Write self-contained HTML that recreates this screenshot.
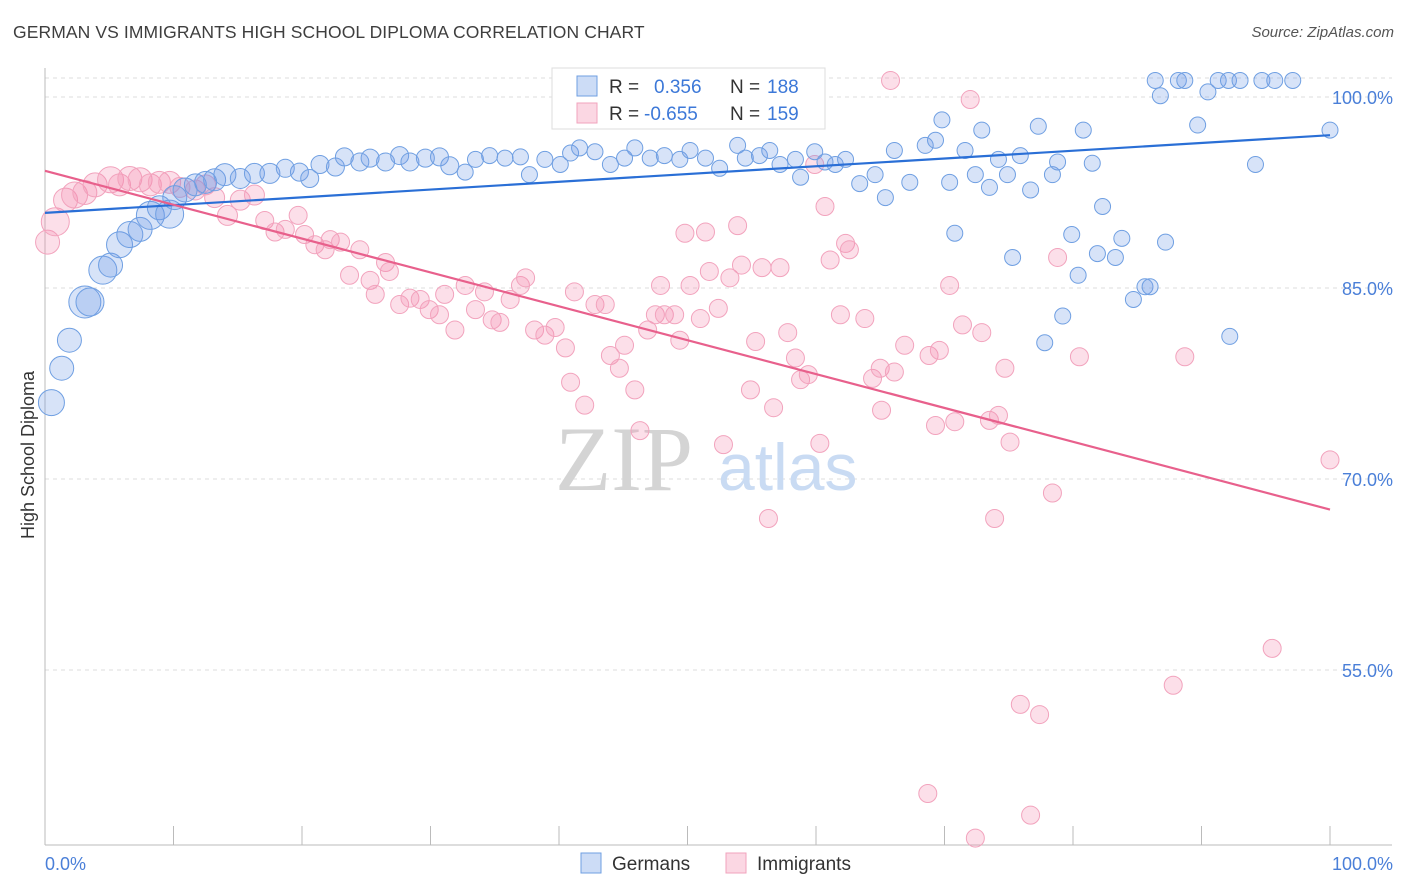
<!DOCTYPE html>
<html><head><meta charset="utf-8">
<style>
body{margin:0;background:#fff;font-family:"Liberation Sans",sans-serif;}
#wrap{position:relative;width:1406px;height:892px;overflow:hidden;}
.title{position:absolute;left:13px;top:22px;font-size:17.5px;color:#3e3e3e;letter-spacing:0.1px;}
.source{position:absolute;right:12px;top:24px;font-size:15px;color:#555;font-style:italic;}
</style></head>
<body>
<div id="wrap">
<div class="title">GERMAN VS IMMIGRANTS HIGH SCHOOL DIPLOMA CORRELATION CHART</div>
<div class="source">Source: ZipAtlas.com</div>
<svg id="svg" width="1406" height="892" style="position:absolute;left:0;top:0"></svg>
</div>
<script>
const gerX=[0.5,1.3,1.9,3.1,3.5,4.5,5.1,5.8,6.6,7.4,8.2,8.9,9.7,10.1,10.9,11.7,12.5,13.2,14.0,15.2,16.3,17.5,18.7,19.8,20.6,21.4,22.6,23.3,24.5,25.3,26.5,27.6,28.4,29.6,30.7,31.5,32.7,33.5,34.6,35.8,37.0,37.7,38.9,40.1,40.9,41.6,42.8,44.0,45.1,45.9,47.1,48.2,49.4,50.2,51.4,52.5,53.9,54.5,55.6,56.4,57.2,58.4,58.8,59.9,60.7,61.5,62.3,63.4,64.6,65.4,66.1,67.3,68.5,69.3,69.8,70.4,70.8,71.6,72.4,72.9,73.5,74.2,74.9,75.3,75.9,76.7,77.3,77.8,78.4,78.8,79.2,79.9,80.4,80.8,81.5,81.9,82.3,83.3,83.8,84.7,85.6,86.0,86.4,86.8,87.2,88.2,88.7,89.7,90.5,91.3,92.1,92.2,93.0,94.2,94.7,95.7,97.1,100];
const gerY=[76.0,78.7,80.9,83.9,83.9,86.4,86.8,88.4,89.2,89.6,90.7,91.3,90.8,92.1,92.7,93.1,93.3,93.5,93.9,93.6,94.0,94.0,94.4,94.1,93.6,94.7,94.5,95.3,94.9,95.2,94.9,95.4,94.9,95.2,95.3,94.6,94.1,95.1,95.4,95.2,95.3,93.9,95.1,94.7,95.6,96.0,95.7,94.7,95.2,96.0,95.2,95.4,95.1,95.8,95.2,94.4,96.2,95.2,95.4,95.8,94.7,95.1,93.7,95.7,94.9,94.7,95.1,93.2,93.9,92.1,95.8,93.3,96.2,96.6,98.2,93.3,89.3,95.8,93.9,97.4,92.9,95.1,93.9,87.4,95.4,92.7,97.7,80.7,93.9,94.9,82.8,89.2,86.0,97.4,94.8,87.7,91.4,87.4,88.9,84.1,85.1,85.1,101.3,100.1,88.6,101.3,101.3,97.8,100.4,101.3,101.3,81.2,101.3,94.7,101.3,101.3,101.3,97.4];
const gerR=[13,12,12,16,14,14,12,13,13,12,14,12,14,12,12,11,11,11,11,10,10,10,9,9,9,9,9,9,9,9,9,9,9,9,9,9,8,8,8,8,8,8,8,8,8,8,8,8,8,8,8,8,8,8,8,8,8,8,8,8,8,8,8,8,8,8,8,8,8,8,8,8,8,8,8,8,8,8,8,8,8,8,8,8,8,8,8,8,8,8,8,8,8,8,8,8,8,8,8,8,8,8,8,8,8,8,8,8,8,8,8,8,8,8,8,8,8,8];
const immX=[0.2,0.8,1.6,2.3,3.1,3.9,5.1,5.8,6.6,7.4,8.2,8.9,9.7,10.5,11.7,12.5,13.2,14.2,15.2,16.3,17.1,17.9,18.7,19.7,20.2,21.0,21.8,22.2,23.0,23.7,24.5,25.3,25.7,26.5,26.8,27.6,28.4,29.2,29.9,30.7,31.1,31.9,32.7,33.5,34.2,34.8,35.4,36.2,37.0,37.4,38.1,38.9,39.7,40.5,40.9,41.2,42.0,42.8,43.6,44.0,44.7,45.1,45.9,46.3,46.9,47.5,47.9,48.2,49.0,49.4,49.8,50.2,51.0,51.4,51.7,52.4,52.8,53.3,53.9,54.2,54.9,55.3,55.8,56.3,56.7,57.2,57.8,58.4,58.8,59.4,59.9,60.3,60.7,61.1,61.9,62.3,62.6,63.8,64.4,65.0,65.1,65.8,66.1,66.9,68.7,68.8,69.3,69.6,70.4,70.8,71.4,72.0,72.4,72.9,73.5,73.9,74.2,74.7,75.1,75.9,76.7,77.4,78.4,78.8,80.5,87.8,88.7,95.5,100];
const immY=[88.6,90.2,91.9,92.3,92.5,93.1,93.5,93.1,93.6,93.5,93.1,93.3,93.3,92.9,92.7,93.1,92.1,90.7,91.9,92.3,90.3,89.4,89.6,90.7,89.2,88.4,88.0,88.8,88.6,86.0,88.0,85.6,84.5,87.0,86.3,83.7,84.2,84.1,83.3,82.9,84.5,81.7,85.2,83.3,84.7,82.5,82.3,84.1,85.2,85.8,81.7,81.3,81.9,80.3,77.6,84.7,75.8,83.7,83.7,79.7,78.7,80.5,77.0,73.8,81.7,82.9,85.2,82.9,82.9,80.9,89.3,85.2,82.6,89.4,86.3,83.4,72.7,85.8,89.9,86.8,77.0,80.8,86.6,66.9,75.6,86.6,81.5,79.5,77.8,78.2,94.7,72.8,91.4,87.2,82.9,88.5,88.0,82.6,77.9,78.7,75.4,101.3,78.4,80.5,45.3,79.7,74.2,80.1,85.2,74.5,82.1,99.8,41.8,81.5,74.6,66.9,75.0,78.7,72.9,52.3,43.6,51.5,68.9,87.4,79.6,53.8,79.6,56.7,71.5];
const immR=[12,14,12,13,12,12,13,11,12,12,11,11,11,10,10,10,10,10,10,10,9,9,9,9,9,9,9,9,9,9,9,9,9,9,9,9,9,9,9,9,9,9,9,9,9,9,9,9,9,9,9,9,9,9,9,9,9,9,9,9,9,9,9,9,9,9,9,9,9,9,9,9,9,9,9,9,9,9,9,9,9,9,9,9,9,9,9,9,9,9,9,9,9,9,9,9,9,9,9,9,9,9,9,9,9,9,9,9,9,9,9,9,9,9,9,9,9,9,9,9,9,9,9,9,9,9,9,9,9,9];
const gerTrend=[90.9,97.0];
const immTrend=[94.2,67.6];
const yTicks=[100,85,70,55];
const yTickLabels=["100.0%","85.0%","70.0%","55.0%"];
const xTicks=[0,10,20,30,40,50,60,70,80,90,100];

const NS="http://www.w3.org/2000/svg";
const svg=document.getElementById('svg');
const X0=45,X1=1330,YT=97,PX15=191;
function sx(v){return X0+(v/100)*(X1-X0);}
function sy(v){return YT+(100-v)/15*PX15;}
function el(tag,attrs,parent){const e=document.createElementNS(NS,tag);for(const k in attrs)e.setAttribute(k,attrs[k]);(parent||svg).appendChild(e);return e;}

let g=el('line',{x1:45,x2:1392,y1:78,y2:78,stroke:'#ddd','stroke-dasharray':'4,4'});


yTicks.forEach((t,i)=>{
  const l=el('line',{x1:45,x2:1392,y1:sy(t),y2:sy(t),stroke:'#ddd','stroke-dasharray':'4,4'});
  
  
  const tx=el('text',{x:1393,y:sy(t)+7,'text-anchor':'end','font-size':'18',fill:'#4a7fd8','font-family':'Liberation Sans, sans-serif'});
  tx.textContent=yTickLabels[i];
  
  
});
let ax=el('line',{x1:45,x2:45,y1:68,y2:845,stroke:'#bbb'});


ax=el('line',{x1:45,x2:1392,y1:845,y2:845,stroke:'#bbb'});


xTicks.forEach(t=>{
  const l=el('line',{x1:sx(t),x2:sx(t),y1:826,y2:845,stroke:'#bbb'});
  
  
});
let t=el('text',{x:45,y:870,'font-size':'18',fill:'#4a7fd8'});t.textContent='0.0%';


t=el('text',{x:1393,y:870,'font-size':'18',fill:'#4a7fd8','text-anchor':'end'});t.textContent='100.0%';


t=el('text',{x:0,y:0,'font-size':'18',fill:'#333',transform:'translate(34,455) rotate(-90)','text-anchor':'middle'});t.textContent='High School Diploma';


t=el('text',{x:555,y:490,'font-size':'92','font-family':'Liberation Serif, serif',fill:'#d4d4d4'});t.textContent='ZIP';


t=el('text',{x:718,y:490,'font-size':'66',fill:'#c9dbf3'});t.textContent='atlas';



immX.forEach((x,i)=>{
  const c=el('circle',{cx:sx(x),cy:sy(immY[i]),r:immR[i],fill:'rgba(244,140,175,0.28)',stroke:'#f2a3bd','stroke-width':1});
  
  
});
gerX.forEach((x,i)=>{
  const c=el('circle',{cx:sx(x),cy:sy(gerY[i]),r:gerR[i],fill:'rgba(110,155,230,0.28)',stroke:'#6f9fe2','stroke-width':1});
  
  
});
let ln=el('line',{x1:sx(0),y1:sy(gerTrend[0]),x2:sx(100),y2:sy(gerTrend[1]),stroke:'#2a6fd6','stroke-width':2.2});


ln=el('line',{x1:sx(0),y1:sy(immTrend[0]),x2:sx(100),y2:sy(immTrend[1]),stroke:'#e8608c','stroke-width':2.2});



const lg=el('g',{});


el('rect',{x:552,y:68,width:273,height:61,fill:'#fff',stroke:'#ddd'},lg);
el('rect',{x:577,y:76,width:20,height:20,fill:'rgba(110,155,230,0.35)',stroke:'#6f9fe2'},lg);
el('rect',{x:577,y:103,width:20,height:20,fill:'rgba(244,140,175,0.35)',stroke:'#f2a3bd'},lg);
function lt(x,y,s,c){const e=el('text',{x:x,y:y,'font-size':'19',fill:c},lg);e.textContent=s;return e;}
lt(609,93,'R =','#333');lt(654,93,'0.356','#3c78d8');lt(730,93,'N =','#333');lt(767,93,'188','#3c78d8');
lt(609,120,'R =','#333');lt(644,120,'-0.655','#3c78d8');lt(730,120,'N =','#333');lt(767,120,'159','#3c78d8');
const bl=el('g',{});


el('rect',{x:581,y:853,width:20,height:20,fill:'rgba(110,155,230,0.35)',stroke:'#6f9fe2'},bl);
let b=el('text',{x:612,y:870,'font-size':'19',fill:'#333'},bl);b.textContent='Germans';


el('rect',{x:726,y:853,width:20,height:20,fill:'rgba(244,140,175,0.35)',stroke:'#f2a3bd'},bl);
b=el('text',{x:757,y:870,'font-size':'19',fill:'#333'},bl);b.textContent='Immigrants';


</script>
</body></html>
